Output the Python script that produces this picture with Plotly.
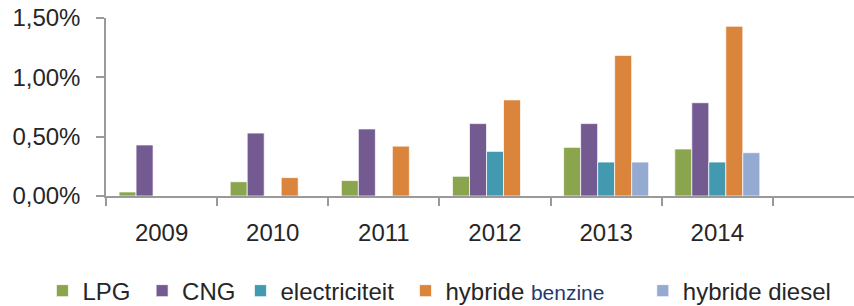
import plotly.graph_objects as go

years = ["2009", "2010", "2011", "2012", "2013", "2014"]
lpg = [0.00034, 0.0012, 0.0013, 0.00166, 0.0041, 0.00396]
cng = [0.0043, 0.0053, 0.00565, 0.0061, 0.0061, 0.00786]
elec = [None, None, None, 0.00376, 0.00286, 0.00286]
hyb_benz = [None, 0.00155, 0.0042, 0.0081, 0.01185, 0.0143]
hyb_diesel = [None, None, None, None, 0.00286, 0.00365]

NB = "\u00a0"
series = [
    ("LPG" + NB, lpg, "#8AA54E"),
    ("CNG", cng, "#735A91"),
    ("electriciteit" + NB, elec, "#4299B0"),
    ("hybride <span style='font-size:21px;color:#1F3A6E'>benzine</span>" + NB * 5, hyb_benz, "#DB843C"),
    ("hybride diesel", hyb_diesel, "#94AAD0"),
]

FONT = "Liberation Sans, Arial, sans-serif"

fig = go.Figure()
for name, vals, col in series:
    fig.add_trace(go.Bar(
        x=years, y=vals, name=name,
        marker=dict(color=col, line=dict(color="rgba(255,255,255,0.7)", width=1)),
    ))

fig.update_layout(
    width=854, height=306,
    margin=dict(l=106, r=0, t=18, b=110, autoexpand=False),
    paper_bgcolor="white", plot_bgcolor="white",
    barmode="group", bargap=0.235, bargroupgap=0,
    separators=",.",
    font=dict(family=FONT, size=24, color="#262626"),
    showlegend=True,
    legend=dict(
        orientation="h", x=-0.085, xanchor="left", y=-0.534, yanchor="middle",
        font=dict(family=FONT, size=24, color="#262626"),
        itemclick=False, itemdoubleclick=False,
        tracegroupgap=0,
    ),
    xaxis=dict(
        type="category", range=[-0.5, 6.23], automargin=False,
        showline=True, linecolor="#9A9A9A", linewidth=1.5,
        ticks="outside", ticklen=8, tickcolor="#9A9A9A", tickwidth=1.5,
        tickson="boundaries",
        showgrid=False, zeroline=False,
        ticklabelstandoff=14, ticklabeloverflow="allow",
        tickfont=dict(family=FONT, size=24, color="#262626"),
    ),
    yaxis=dict(
        range=[0, 0.015], tickvals=[0, 0.005, 0.01, 0.015], tickformat=".2%",
        automargin=False,
        showline=True, linecolor="#9A9A9A", linewidth=1.5,
        ticks="outside", ticklen=8, tickcolor="#9A9A9A", tickwidth=1.5,
        showgrid=False, zeroline=False,
        ticklabelstandoff=11, ticklabeloverflow="allow",
        tickfont=dict(family=FONT, size=24, color="#262626"),
    ),
)

# remove the browser's default 8px body margin so the figure fills the window exactly
fig.write_html(
    "out.html",
    config={"displayModeBar": False},
    post_script="document.body.style.margin='0';",
)
